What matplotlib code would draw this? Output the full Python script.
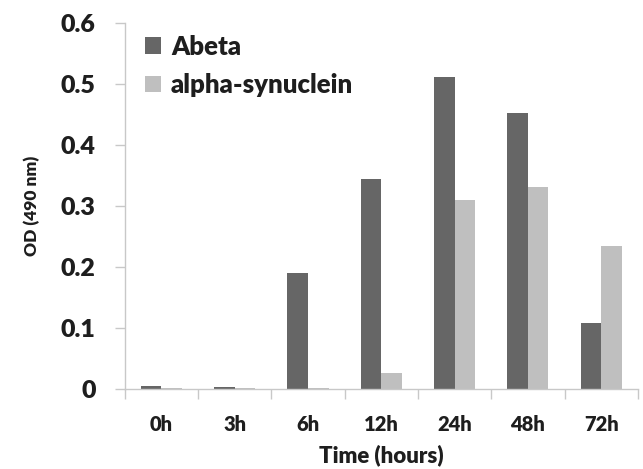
import matplotlib
matplotlib.use('Agg')
import matplotlib.pyplot as plt
import numpy as np

# --- Data ---
time_labels = ['0h', '3h', '6h', '12h', '24h', '48h', '72h']
abeta = [0.004, 0.003, 0.190, 0.344, 0.510, 0.451, 0.108]
alpha_syn = [0.001, 0.001, 0.001, 0.026, 0.309, 0.331, 0.234]
y_ticks = [0, 0.1, 0.2, 0.3, 0.4, 0.5, 0.6]
y_tick_labels = ['0', '0.1', '0.2', '0.3', '0.4', '0.5', '0.6']

WEIGHT = 'heavy'
TXT = '#1e1e1e'
plt.rcParams['font.family'] = ['Lato', 'DejaVu Sans']

fig = plt.figure(figsize=(6.43, 4.69), dpi=100)
ax = fig.add_axes([0.194, 0.171, 0.798, 0.781])

x = np.arange(len(time_labels))
w = 0.28
ax.bar(x - w / 2, abeta, w, color='#666666', label='Abeta')
ax.bar(x + w / 2, alpha_syn, w, color='#bfbfbf', label='alpha-synuclein')

ax.set_xlim(-0.5, len(time_labels) - 0.5)
ax.set_ylim(0, 0.6)

# category labels at centres, separator ticks at boundaries
ax.set_xticks(x)
ax.set_xticklabels(time_labels, fontsize=14.5, fontweight=WEIGHT, color=TXT)
ax.tick_params(axis='x', which='major', length=0, pad=19)
ax.set_xticks(np.arange(len(time_labels) + 1) - 0.5, minor=True)
ax.tick_params(axis='x', which='minor', length=7, color='#c8c8c8', width=1)

ax.set_yticks(y_ticks)
ax.set_yticklabels(y_tick_labels, fontsize=18, fontweight=WEIGHT, color=TXT)
ax.tick_params(axis='y', length=7, color='#c8c8c8', width=1, pad=14)

for side in ['top', 'right']:
    ax.spines[side].set_visible(False)
for side in ['left', 'bottom']:
    ax.spines[side].set_color('#c8c8c8')
    ax.spines[side].set_linewidth(1)

ax.set_xlabel('Time (hours)', fontsize=16, fontweight=WEIGHT, color=TXT, labelpad=7)
ax.set_ylabel('OD (490 nm)', fontsize=12.5, fontweight=WEIGHT, color=TXT, labelpad=15)

leg = ax.legend(loc='upper left', bbox_to_anchor=(-0.005, 1.03), frameon=False,
                prop={'size': 18.5, 'weight': WEIGHT}, handlelength=0.6, handleheight=0.6,
                handletextpad=0.4, labelspacing=0.55)
for t in leg.get_texts():
    t.set_color(TXT)

fig.savefig('out.png', dpi=100)
